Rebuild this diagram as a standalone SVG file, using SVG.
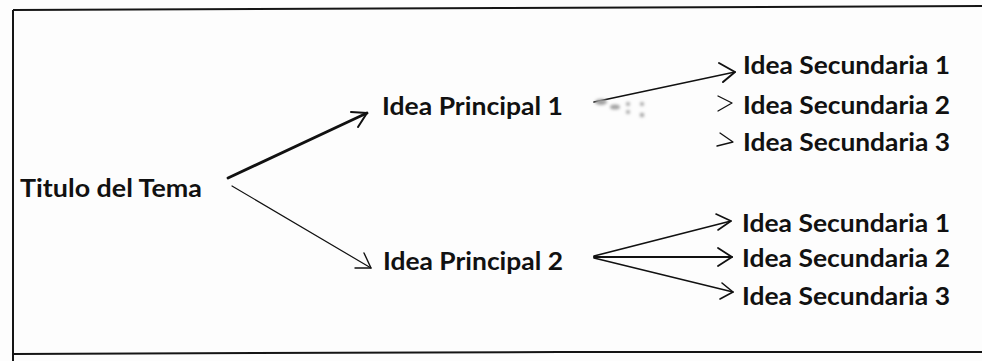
<svg xmlns="http://www.w3.org/2000/svg" width="982" height="361" viewBox="0 0 982 361">
  <defs>
    <style>
      .lbl { font-family: Lato, "Liberation Sans", sans-serif; font-size: 24.5px; font-weight: 700; fill: #111; }
      .ln { fill: none; stroke: #111; stroke-linecap: round; stroke-linejoin: round; }
      .frame { fill: none; stroke: #151515; stroke-width: 2; }
    </style>
    <filter id="soft" x="-20%" y="-50%" width="140%" height="200%">
      <feGaussianBlur stdDeviation="1.6"/>
    </filter>
  </defs>

  <rect width="982" height="361" fill="#fdfdfd"/>

  <!-- page frame: top, left and bottom rules -->
  <g id="frame">
    <path class="frame" d="M13 10 L500 8 L982 6"/>
    <path class="frame" d="M13 10 L13 361"/>
    <path class="frame" d="M13 354 L560 352 L982 352" stroke-width="1.6"/>
  </g>

  <g id="titulo">
    <text class="lbl" x="20" y="197" textLength="182" lengthAdjust="spacingAndGlyphs">Titulo del Tema</text>
  </g>
  <g id="principal1">
    <text class="lbl" x="382" y="115" textLength="181" lengthAdjust="spacingAndGlyphs">Idea Principal 1</text>
  </g>
  <g id="principal2">
    <text class="lbl" x="383" y="270" textLength="180" lengthAdjust="spacingAndGlyphs">Idea Principal 2</text>
  </g>
  <g id="sec1a">
    <text class="lbl" x="743" y="74" textLength="207" lengthAdjust="spacingAndGlyphs">Idea Secundaria 1</text>
  </g>
  <g id="sec2a">
    <text class="lbl" x="743" y="114" textLength="207" lengthAdjust="spacingAndGlyphs">Idea Secundaria 2</text>
  </g>
  <g id="sec3a">
    <text class="lbl" x="743" y="151" textLength="207" lengthAdjust="spacingAndGlyphs">Idea Secundaria 3</text>
  </g>
  <g id="sec1b">
    <text class="lbl" x="742" y="232" textLength="208" lengthAdjust="spacingAndGlyphs">Idea Secundaria 1</text>
  </g>
  <g id="sec2b">
    <text class="lbl" x="742" y="267" textLength="208" lengthAdjust="spacingAndGlyphs">Idea Secundaria 2</text>
  </g>
  <g id="sec3b">
    <text class="lbl" x="742" y="305" textLength="208" lengthAdjust="spacingAndGlyphs">Idea Secundaria 3</text>
  </g>

  <g id="connectors">
    <!-- title to main ideas -->
    <path class="ln" stroke-width="2.8" d="M228 178 L367 113"/>
    <path class="ln" stroke-width="2" d="M351 112 L367 113 L358 127"/>
    <path class="ln" stroke-width="1.2" d="M232 186 L371 268"/>
    <path class="ln" stroke-width="1.4" d="M364 253 L371 268 L355 268"/>

    <!-- first main idea -->
    <path class="ln" stroke-width="1.6" d="M594 102 L735 72"/>
    <path class="ln" stroke-width="2" d="M719 63 L735 72 L723 82"/>
    <path class="ln" stroke-width="1.3" d="M718 96 L732 103 L718 111"/>
    <path class="ln" stroke-width="1.3" d="M720 133 L733 142 L717 146"/>
    <g filter="url(#soft)" fill="#a0a0a0">
      <ellipse cx="601" cy="102" rx="6" ry="3"/>
      <ellipse cx="615" cy="107" rx="5" ry="2.5"/>
      <circle cx="628" cy="104" r="2"/>
      <circle cx="642" cy="104" r="2"/>
      <circle cx="628" cy="112" r="2"/>
      <circle cx="642" cy="115" r="2.2"/>
    </g>

    <!-- second main idea -->
    <path class="ln" stroke-width="1.6" d="M594 256 L731 221"/>
    <path class="ln" stroke-width="1.6" d="M716 214 L731 221 L718 230"/>
    <path class="ln" stroke-width="2" d="M594 257 L732 257"/>
    <path class="ln" stroke-width="1.8" d="M718 248 L732 257 L718 266"/>
    <path class="ln" stroke-width="1.6" d="M594 258 L733 292"/>
    <path class="ln" stroke-width="1.6" d="M722 283 L733 292 L720 299"/>
  </g>
</svg>
